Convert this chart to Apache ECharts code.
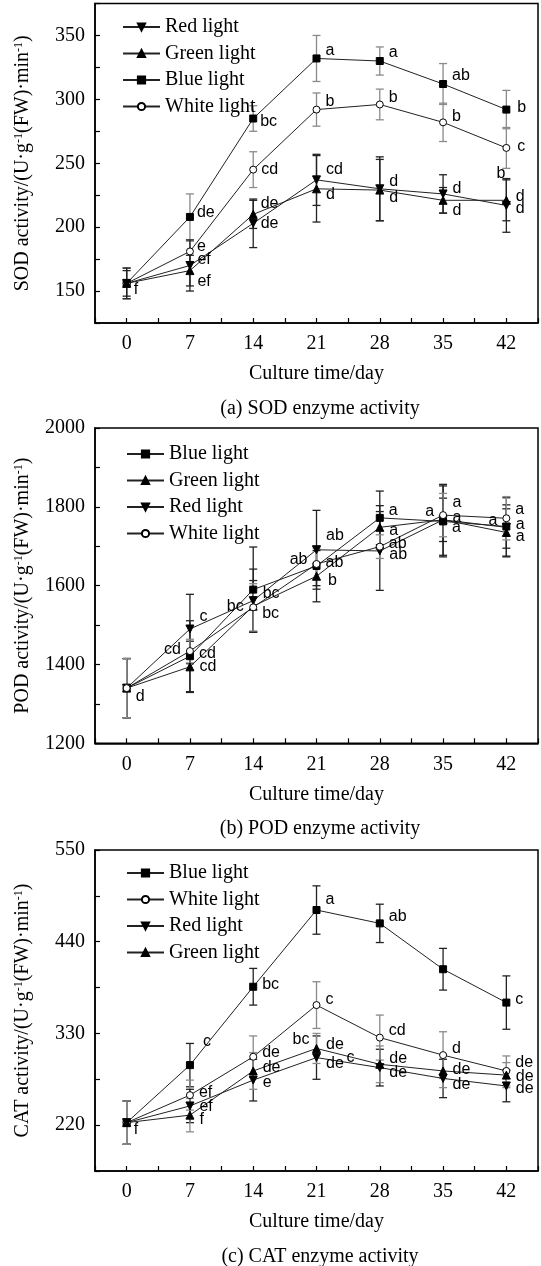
<!DOCTYPE html>
<html>
<head>
<meta charset="utf-8">
<script src="https://cdn.jsdelivr.net/npm/echarts@6/dist/echarts.min.js"></script>
<style>
  html, body { margin: 0; padding: 0; background: #fff; }
  #chart { width: 541px; height: 1266px; }
</style>
</head>
<body>
<div id="chart"></div>
<script>
const days = [0, 7, 14, 21, 28, 35, 42];

// (a) SOD activity, mean and error
const sodBlue = [156, 208, 285, 332, 330, 312, 292];
const sodBlueErr = [12, 18, 10, 18, 11, 16, 15];
const sodWhite = [156, 181, 245, 292, 296, 282, 262];
const sodWhiteErr = [12, 8, 14, 13, 12, 15, 16];
const sodRed = [156, 170, 203, 237, 230, 226, 217];
const sodRedErr = [12, 20, 19, 20, 25, 15, 21];
const sodGreen = [156, 166, 210, 230, 229, 221, 221];
const sodGreenErr = [10, 12, 11, 26, 24, 10, 16];
const sodBlueLbl = ['', 'de', 'bc', 'a', 'a', 'ab', 'b'];
const sodWhiteLbl = ['f', 'e', 'cd', 'b', 'b', 'b', 'c'];
const sodRedLbl = ['', 'ef', 'de', 'cd', 'd', 'd', 'd'];
const sodGreenLbl = ['', 'ef', 'de', 'd', 'd', 'd', 'd'];

// (b) POD activity
const podBlue = [1340, 1421, 1590, 1650, 1772, 1763, 1750];
const podBlueErr = [75, 90, 108, 50, 68, 90, 55];
const podGreen = [1340, 1394, 1548, 1624, 1748, 1767, 1735];
const podGreenErr = [75, 65, 65, 65, 55, 55, 60];
const podRed = [1340, 1490, 1562, 1691, 1688, 1767, 1748];
const podRedErr = [75, 88, 80, 100, 100, 90, 75];
const podWhite = [1340, 1434, 1545, 1655, 1699, 1779, 1771];
const podWhiteErr = [75, 30, 60, 40, 30, 55, 55];
const podBlueLbl = ['', 'cd', '', 'ab', 'a', 'a', 'a'];
const podGreenLbl = ['', 'cd', 'bc', 'b', 'a', 'a', 'a'];
const podRedLbl = ['', 'c', 'bc', 'ab', 'ab', 'a', 'a'];
const podWhiteLbl = ['d', 'cd', 'bc', 'ab', 'ab', 'a', 'a'];

// (c) CAT activity
const catBlue = [223, 292, 386, 478, 462, 407, 367];
const catBlueErr = [26, 26, 22, 29, 23, 25, 32];
const catWhite = [223, 256, 302, 364, 325, 304, 285];
const catWhiteErr = [26, 18, 25, 28, 27, 28, 18];
const catRed = [223, 243, 274, 301, 289, 276, 267];
const catRedErr = [26, 20, 25, 26, 22, 23, 19];
const catGreen = [223, 232, 285, 312, 293, 285, 280];
const catGreenErr = [26, 20, 22, 18, 22, 20, 15];
const catBlueLbl = ['f', 'c', 'bc', 'a', 'ab', '', 'c'];
const catWhiteLbl = ['', 'ef', 'de', 'c', 'cd', 'd', 'de'];
const catRedLbl = ['', 'ef', 'e', 'de', 'de', 'de', 'de'];
const catGreenLbl = ['', 'f', 'de', 'de', 'de', 'de', 'de'];

// label nudges [dx, dy, side]
const sodBlueNudge = [null, [-2, -4], [-2, 3], [0, -8], [0, -8], [0, -8], [2, -2]];
const sodWhiteNudge = [[-2, 6], [-2, -5], [-1, 0], [0, -8], [0, -7], [0, -6], [2, -1]];
const sodRedNudge = [null, [-2, -6], [-2, 0], [0, -10], [0, -7], [0, -5], [0, 3]];
const sodGreenNudge = [null, [-2, 11], [-2, -11], [0, 6], [0, 8], [0, 10], [0, -4]];
const podBlueNudge = [null, [0, -3], null, [0, -3], [0, -7], [0, 6], [0, -6, 'left']];
const podGreenNudge = [null, [0, 0], [0, 0, 'left'], [2, 4], [0, 3], [0, -17], [0, 4]];
const podRedNudge = [null, [0, -12], [0, -7], [0, -14], [0, 4], [0, -2], [0, -3]];
const podWhiteNudge = [[0, 8], [0, -1, 'left'], [0, 6], [0, -4, 'left'], [0, -3], [0, -4, 'left'], [0, -9]];
const catBlueNudge = [[-2, 7], [4, -24], [0, -2], [0, -10], [0, -7], null, [0, -3]];
const catWhiteNudge = [null, [0, -3], [0, -4], [0, -5], [0, -7], [0, -7], [0, -8]];
const catRedNudge = [null, [0, 1], [0, 2], [0, 6], [0, 5], [0, 6], [0, 3]];
const catGreenNudge = [null, [0, 4], [0, -3], [0, -4], [0, -6], [0, -1], [0, 1]];

const SERIF = 'Liberation Serif';
const SANS = 'Liberation Sans';

const markers = {
  'Blue light': { symbol: 'rect', size: 7, fill: '#000' },
  'Green light': { symbol: 'triangle', size: 8, fill: '#000' },
  'Red light': { symbol: 'path://M0,0L10,0L5,9Z', size: 8, fill: '#000' },
  'White light': { symbol: 'circle', size: 7, fill: '#fff' }
};

function errRender(color) {
  return function (params, api) {
    const x = api.value(0), y = api.value(1), e = api.value(2);
    const hi = api.coord([x, y + e]);
    const lo = api.coord([x, y - e]);
    const w = 4;
    const st = { stroke: color, lineWidth: 1.3 };
    return {
      type: 'group',
      children: [
        { type: 'line', shape: { x1: hi[0], y1: hi[1], x2: lo[0], y2: lo[1] }, style: st },
        { type: 'line', shape: { x1: hi[0] - w, y1: hi[1], x2: hi[0] + w, y2: hi[1] }, style: st },
        { type: 'line', shape: { x1: lo[0] - w, y1: lo[1], x2: lo[0] + w, y2: lo[1] }, style: st }
      ]
    };
  };
}

const labelBase = { show: false, fontFamily: SANS, fontSize: 16, color: '#000', opacity: 1, distance: 5 };

function makeSeries(gi, groups, notes) {
  const out = [];
  groups.forEach(g => {
    out.push({
      type: 'custom', xAxisIndex: gi, yAxisIndex: gi, silent: true, z: 2, clip: false,
      renderItem: errRender(g.errColor),
      data: days.map((d, i) => [d, g.vals[i], g.err[i]])
    });
    const m = markers[g.name];
    out.push({
      type: 'line', name: g.name, xAxisIndex: gi, yAxisIndex: gi, z: 3,
      symbol: m.symbol, symbolSize: m.size, showAllSymbol: true,
      lineStyle: { color: '#222', width: 1 },
      itemStyle: { color: m.fill, borderColor: '#000', borderWidth: 1 },
      label: labelBase,
      data: days.map((d, i) => {
        const item = { value: [d, g.vals[i]] };
        if (g.lbl[i]) {
          const n = g.nudge[i] || [0, 0];
          item.label = { show: true, formatter: g.lbl[i], position: n[2] || 'right', offset: [n[0], n[1]] };
        }
        return item;
      })
    });
  });
  if (notes.length) {
    out.push({
      type: 'scatter', xAxisIndex: gi, yAxisIndex: gi, z: 4, symbolSize: 0, silent: true,
      itemStyle: { color: '#000', opacity: 1 },
      label: labelBase,
      data: notes.map(n => ({
        value: [days[n.i], n.vals[n.i]],
        label: { show: true, formatter: n.text, position: n.side, offset: [n.dx, n.dy] }
      }))
    });
  }
  return out;
}

const GREY = '#8a8a8a', DARK = '#222';

const series = [].concat(
  makeSeries(0, [
    { name: 'Blue light', vals: sodBlue, err: sodBlueErr, lbl: sodBlueLbl, nudge: sodBlueNudge, errColor: GREY },
    { name: 'White light', vals: sodWhite, err: sodWhiteErr, lbl: sodWhiteLbl, nudge: sodWhiteNudge, errColor: GREY },
    { name: 'Red light', vals: sodRed, err: sodRedErr, lbl: sodRedLbl, nudge: sodRedNudge, errColor: DARK },
    { name: 'Green light', vals: sodGreen, err: sodGreenErr, lbl: sodGreenLbl, nudge: sodGreenNudge, errColor: DARK }
  ], [
    { vals: sodGreen, i: 6, text: 'b', side: 'left', dx: 4, dy: -27 }
  ]),
  makeSeries(1, [
    { name: 'Blue light', vals: podBlue, err: podBlueErr, lbl: podBlueLbl, nudge: podBlueNudge, errColor: DARK },
    { name: 'Green light', vals: podGreen, err: podGreenErr, lbl: podGreenLbl, nudge: podGreenNudge, errColor: DARK },
    { name: 'Red light', vals: podRed, err: podRedErr, lbl: podRedLbl, nudge: podRedNudge, errColor: DARK },
    { name: 'White light', vals: podWhite, err: podWhiteErr, lbl: podWhiteLbl, nudge: podWhiteNudge, errColor: GREY }
  ], []),
  makeSeries(2, [
    { name: 'Blue light', vals: catBlue, err: catBlueErr, lbl: catBlueLbl, nudge: catBlueNudge, errColor: DARK },
    { name: 'White light', vals: catWhite, err: catWhiteErr, lbl: catWhiteLbl, nudge: catWhiteNudge, errColor: GREY },
    { name: 'Red light', vals: catRed, err: catRedErr, lbl: catRedLbl, nudge: catRedNudge, errColor: DARK },
    { name: 'Green light', vals: catGreen, err: catGreenErr, lbl: catGreenLbl, nudge: catGreenNudge, errColor: GREY }
  ], [
    { vals: catGreen, i: 3, text: 'bc', side: 'left', dx: -2, dy: -9 },
    { vals: catRed, i: 3, text: 'c', side: 'right', dx: 25, dy: 0 }
  ])
);

const grids = [
  { top: 3.5, height: 319.5 },
  { top: 428, height: 315.3 },
  { top: 850, height: 321 }
];

const xAxes = grids.map((g, i) => ({
  type: 'value', gridIndex: i, min: -3.5, max: 45.5, interval: 3.5,
  axisLine: { show: true, onZero: false, lineStyle: { color: '#000', width: 1.5 } },
  axisTick: { inside: true, length: 5, lineStyle: { color: '#000', width: 1.2 } },
  axisLabel: {
    margin: 11, fontFamily: SERIF, fontSize: 20, color: '#000',
    formatter: v => (v >= 0 && v <= 42 && v % 7 === 0) ? String(v) : ''
  },
  splitLine: { show: false },
  name: 'Culture time/day', nameLocation: 'middle', nameGap: 41,
  nameTextStyle: { fontFamily: SERIF, fontSize: 20, color: '#000' }
}));

function yName(prefix) {
  return '{t|' + prefix + ' activity/(U·g}{s|-1}{t|(FW)·min}{s|-1}{t|)}';
}
const nameRich = {
  t: { fontFamily: SERIF, fontSize: 20, color: '#000' },
  s: { fontFamily: SERIF, fontSize: 12, color: '#000', verticalAlign: 'top' }
};

const yCfg = [
  { min: 125, max: 375, interval: 25, step: 50, lo: 150, hi: 350, name: yName('SOD') },
  { min: 1200, max: 2000, interval: 100, step: 200, lo: 1200, hi: 2000, name: yName('POD') },
  { min: 165, max: 550, interval: 55, step: 110, lo: 220, hi: 550, name: yName('CAT') }
];

const yAxes = yCfg.map((c, i) => ({
  type: 'value', gridIndex: i, min: c.min, max: c.max, interval: c.interval,
  axisLine: { show: true, onZero: false, lineStyle: { color: '#000', width: 1.5 } },
  axisTick: { inside: true, length: 5, lineStyle: { color: '#000', width: 1.2 } },
  axisLabel: {
    margin: 10, fontFamily: SERIF, fontSize: 20, color: '#000',
    formatter: v => (v >= c.lo && v <= c.hi && v % c.step === 0) ? String(v) : ''
  },
  splitLine: { show: false },
  name: c.name, nameLocation: 'middle', nameRotate: 90, nameGap: 62,
  nameTextStyle: { rich: nameRich }
}));

const legendOrder = [
  ['Red light', 'Green light', 'Blue light', 'White light'],
  ['Blue light', 'Green light', 'Red light', 'White light'],
  ['Blue light', 'White light', 'Red light', 'Green light']
];
const legendTop = [12, 439, 858];
const legendLeft = [117, 121, 121];

const legends = legendOrder.map((names, i) => ({
  data: names, orient: 'vertical', left: legendLeft[i], top: legendTop[i],
  itemWidth: 37, itemHeight: 9, itemGap: 6.5, selectedMode: false,
  textStyle: { fontFamily: SERIF, fontSize: 20, color: '#000', lineHeight: 20, padding: [0, 0, 0, 0] }
}));

const subTitles = ['(a) SOD enzyme activity', '(b) POD enzyme activity', '(c) CAT enzyme activity'];
const subTop = [399, 819, 1247];

const option = {
  animation: false,
  backgroundColor: '#fff',
  title: subTitles.map((t, i) => ({
    text: t, left: 320, top: subTop[i], textAlign: 'center', padding: 0,
    textStyle: { fontFamily: SERIF, fontSize: 20, fontWeight: 'normal', color: '#000' }
  })),
  legend: legends,
  grid: grids.map(g => ({
    left: 95, right: -2, top: g.top, height: g.height,
    show: true, borderColor: '#000', borderWidth: 1.5, backgroundColor: 'transparent'
  })),
  xAxis: xAxes,
  yAxis: yAxes,
  series: series
};

const chart = echarts.init(document.getElementById('chart'), null, { renderer: 'canvas' });
chart.setOption(option);
window.addEventListener('resize', () => chart.resize());
</script>
</body>
</html>
